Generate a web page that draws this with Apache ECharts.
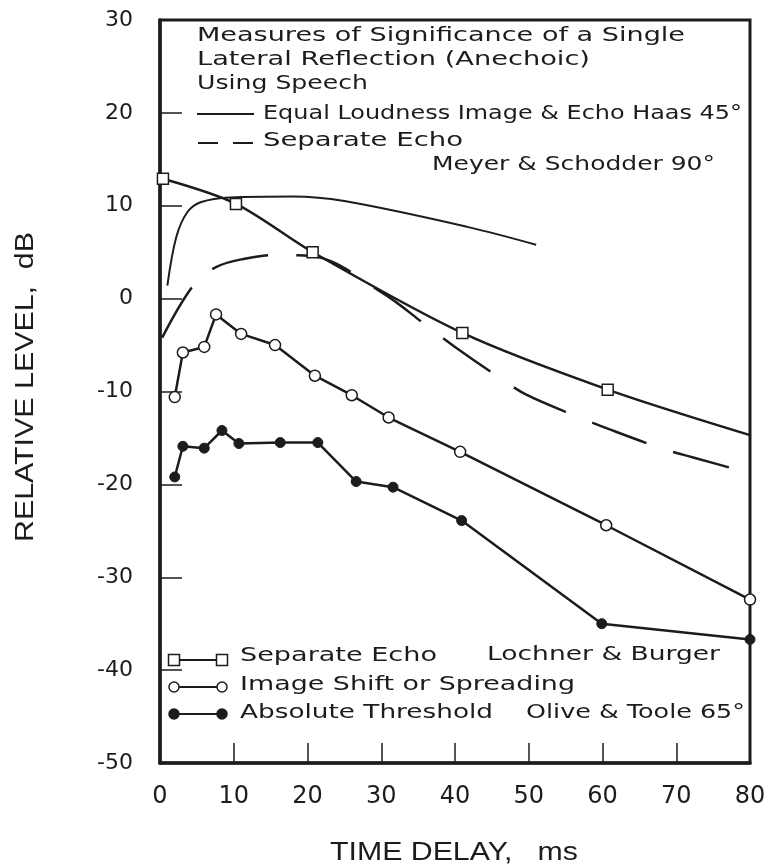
<!DOCTYPE html>
<html>
<head>
<meta charset="utf-8">
<script src="https://cdn.jsdelivr.net/npm/echarts@6/dist/echarts.min.js"></script>
<style>
  body { margin: 0; background: #fff; }
  #chart { width: 775px; height: 865px; }
</style>
</head>
<body>
<div id="chart"></div>
<script>
// tick labels
var xTicks = [0, 10, 20, 30, 40, 50, 60, 70, 80];
var yTicks = [30, 20, 10, 0, -10, -20, -30, -40, -50];

// Lochner & Burger, separate echo (squares; last point is the line end only)
var echoLB = [[0.4, 12.9], [10.3, 10.2], [20.7, 5.0], [41, -3.7], [60.7, -9.8], [80, -14.7]];
// Olive & Toole 65°, image shift or spreading (open circles)
var imageShift = [[2.0, -10.6], [3.1, -5.8], [6.0, -5.2], [7.6, -1.7], [11.0, -3.8], [15.6, -5.0],
  [21.0, -8.3], [26.0, -10.4], [31.0, -12.8], [40.7, -16.5], [60.5, -24.4], [80, -32.4]];
// Olive & Toole 65°, absolute threshold (filled circles)
var threshold = [[2.0, -19.2], [3.1, -15.9], [6.0, -16.1], [8.4, -14.2], [10.7, -15.6], [16.3, -15.5],
  [21.4, -15.5], [26.6, -19.7], [31.6, -20.3], [40.9, -23.9], [59.9, -35.0], [80, -36.7]];
// Haas 45°, equal loudness image & echo
var haas = [[1.0, 1.4], [2.2, 6.6], [3.7, 9.3], [5.6, 10.4], [9.5, 10.9], [18, 11.0],
  [25, 10.5], [41.8, 7.7], [51, 5.8]];
// Meyer & Schodder 90°, separate echo
var meyer = [[0.3, -4.2], [4.5, 1.4], [7.6, 3.4], [11.5, 4.3], [15.6, 4.7], [20.5, 4.6],
  [30, 0.7], [36.3, -3.0], [40, -5.2], [46.2, -8.6], [49.8, -10.4], [56.9, -12.8], [60.7, -14.0],
  [68.3, -16.2], [72.3, -17.1], [80, -18.8]];

var ink = '#1c1c1c';
var hand = "'DejaVu Sans', sans-serif";
var block = "'Liberation Sans', sans-serif";
var ctx = document.createElement('canvas').getContext('2d');

// text stretched to the width the original lettering takes
function label(str, x, y, w, size, family, align, rot) {
  var font = size + 'px ' + family;
  ctx.font = font;
  return {
    type: 'text', x: x, y: y, rotation: rot || 0, silent: true,
    scaleX: w / ctx.measureText(str).width,
    style: { text: str, font: font, fill: ink, textAlign: align || 'left', textVerticalAlign: 'middle' }
  };
}

// legend row: marker - line - marker
function key(y, sym, filled) {
  var items = [{ type: 'line', silent: true, shape: { x1: 174, y1: y, x2: 222, y2: y }, style: { stroke: ink, lineWidth: 2 } }];
  [174, 222].forEach(function (x) {
    var st = { fill: filled ? ink : '#fff', stroke: ink, lineWidth: 1.5 };
    items.push(sym === 'rect'
      ? { type: 'rect', silent: true, shape: { x: x - 5.5, y: y - 5.5, width: 11, height: 11 }, style: st }
      : { type: 'circle', silent: true, shape: { cx: x, cy: y, r: 5 }, style: st });
  });
  return items;
}

var graphics = [
  label('Measures of Significance of a Single', 197, 36, 488, 19, hand),
  label('Lateral Reflection (Anechoic)', 197, 60, 393, 19, hand),
  label('Using Speech', 197, 84, 171, 19, hand),
  { type: 'line', silent: true, shape: { x1: 197, y1: 114, x2: 254, y2: 114 }, style: { stroke: ink, lineWidth: 2 } },
  label('Equal Loudness Image & Echo Haas 45°', 263, 114, 479, 19, hand),
  { type: 'line', silent: true, shape: { x1: 198, y1: 143, x2: 254, y2: 143 }, style: { stroke: ink, lineWidth: 2, lineDash: [20, 15] } },
  label('Separate Echo', 263, 141, 200, 19, hand),
  label('Meyer & Schodder 90°', 432, 165, 283, 19, hand),
  label('Separate Echo', 240, 656, 197, 19, hand),
  label('Lochner & Burger', 487, 655, 233, 19, hand),
  label('Image Shift or Spreading', 240, 685, 335, 19, hand),
  label('Absolute Threshold', 240, 713, 253, 19, hand),
  label('Olive & Toole 65°', 526, 713, 219, 19, hand),
  label('TIME DELAY,   ms', 454, 853, 248, 25, block, 'center'),
  label('RELATIVE LEVEL,  dB', 26, 387, 310, 25, block, 'center', Math.PI / 2)
].concat(key(660, 'rect', false), key(687, 'circle', false), key(714, 'circle', true));

var myChart = echarts.init(document.getElementById('chart'));
var option = {
  animation: false,
  backgroundColor: '#fff',
  grid: { left: 160, right: 25, top: 20, bottom: 102, show: true, borderColor: ink, borderWidth: 3 },
  xAxis: {
    type: 'value', min: 0, max: 80, interval: 10,
    axisLine: { onZero: false, lineStyle: { color: ink, width: 3.5 } },
    axisTick: { inside: true, length: 20, lineStyle: { color: ink, width: 1.5 } },
    axisLabel: {
      margin: 22, color: ink, fontSize: 24, fontFamily: hand,
      formatter: function (v) { return xTicks.indexOf(v) >= 0 ? String(v) : ''; }
    },
    splitLine: { show: false }
  },
  yAxis: {
    type: 'value', min: -50, max: 30, interval: 10,
    axisLine: { show: true, onZero: false, lineStyle: { color: ink, width: 3.5 } },
    axisTick: { show: true, inside: true, length: 22, lineStyle: { color: ink, width: 1.5 } },
    axisLabel: {
      margin: 27, color: ink, fontSize: 22, fontFamily: hand,
      formatter: function (v) { return yTicks.indexOf(v) >= 0 ? String(v) : ''; }
    },
    splitLine: { show: false }
  },
  series: [
    {
      name: 'Separate Echo (Lochner & Burger)', type: 'line', silent: true, smooth: 0.3,
      data: echoLB.map(function (p, i) { return i === echoLB.length - 1 ? { value: p, symbol: 'none' } : p; }),
      symbol: 'rect', symbolSize: 11,
      itemStyle: { color: '#fff', borderColor: ink, borderWidth: 1.5 },
      lineStyle: { color: ink, width: 2.5 }
    },
    {
      name: 'Image Shift or Spreading', type: 'line', silent: true, data: imageShift,
      symbol: 'circle', symbolSize: 11,
      itemStyle: { color: '#fff', borderColor: ink, borderWidth: 1.5 },
      lineStyle: { color: ink, width: 2.5 }
    },
    {
      name: 'Absolute Threshold', type: 'line', silent: true, data: threshold,
      symbol: 'circle', symbolSize: 10,
      itemStyle: { color: ink, borderColor: ink, borderWidth: 1 },
      lineStyle: { color: ink, width: 2.5 }
    },
    {
      name: 'Equal Loudness Image & Echo (Haas 45°)', type: 'line', silent: true, data: haas,
      smooth: 0.35, showSymbol: false, symbol: 'none',
      lineStyle: { color: ink, width: 2 }
    },
    {
      name: 'Separate Echo (Meyer & Schodder 90°)', type: 'line', silent: true, data: meyer,
      smooth: 0.35, showSymbol: false, symbol: 'none',
      lineStyle: { color: ink, width: 2.5, type: [58, 28] }
    }
  ],
  graphic: graphics
};
myChart.setOption(option);
</script>
</body>
</html>
